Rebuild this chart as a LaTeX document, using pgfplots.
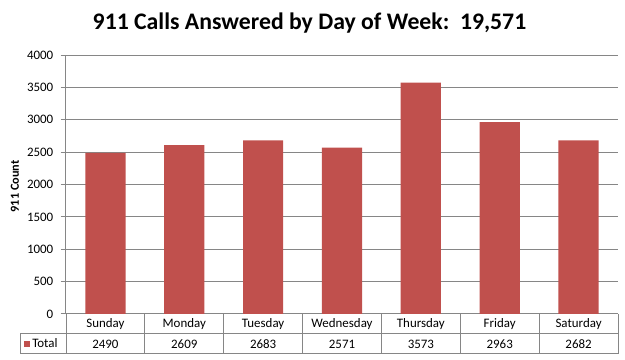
\documentclass[border=0pt]{standalone}
\usepackage{pgfplots}
\pgfplotsset{compat=1.18}
\usepackage{fontspec}
\setmainfont{Carlito}
\definecolor{barred}{HTML}{C0504D}
\definecolor{gridgray}{HTML}{868686}
\newcommand{\px}{0.75pt}
\newcommand{\smallf}{\fontsize{9.7pt}{11pt}\selectfont}
\begin{document}
\begin{tikzpicture}
\useasboundingbox (0,0) rectangle (625*\px,360*\px);
\begin{axis}[
  at={(66*\px,46*\px)}, anchor=south west,
  scale only axis,
  width=414pt, height=194.25pt,
  xmin=-0.5, xmax=6.5,
  ymin=0, ymax=4000,
  ytick={0,500,...,4000},
  xtick=\empty,
  ymajorgrids,
  grid style={gridgray, line width=0.75pt},
  axis x line=bottom, axis y line=left,
  axis line style={gridgray, line width=0.75pt, -},
  ytick style={gridgray, line width=0.75pt},
  tick align=outside,
  major tick length=4pt,
  yticklabel style={font=\smallf, xshift=-2pt},
  /pgf/number format/assume math mode=true,
  /pgf/number format/1000 sep={},
  clip=false,
]
\addplot[ybar, bar width=0.51, fill=barred, draw=none] coordinates {
  (0,2490) (1,2609) (2,2683) (3,2571) (4,3573) (5,2963) (6,2682)
};
\end{axis}
\node[font=\fontsize{17.8pt}{20pt}\selectfont\bfseries, inner sep=0pt] at (309.5*\px,337*\px) {911 Calls Answered by Day of Week:\ \ 19,571};
\node[font=\fontsize{9.2pt}{11pt}\selectfont\bfseries, rotate=90, inner sep=0pt] at (15*\px,173.5*\px) {911 Count};
\begin{scope}[gridgray, line width=0.75pt]
  \draw (20*\px,26*\px) -- (618*\px,26*\px);
  \draw (20*\px,6*\px) -- (618*\px,6*\px);
  \draw (20*\px,26*\px) -- (20*\px,6*\px);
  \draw (66*\px,46*\px) -- (66*\px,6*\px);
  \foreach \k in {1,...,7} {
    \draw ({(66+\k*78.857)*\px},46*\px) -- ({(66+\k*78.857)*\px},6*\px);
  }
\end{scope}
\fill[barred] (24*\px,13*\px) rectangle (30*\px,19*\px);
\node[anchor=west, font=\smallf, inner sep=0pt] at (32*\px,16.5*\px) {Total};
\foreach \name/\val [count=\i from 0] in {Sunday/2490,Monday/2609,Tuesday/2683,Wednesday/2571,Thursday/3573,Friday/2963,Saturday/2682} {
  \node[font=\smallf, inner sep=0pt] at ({(66+(\i+0.5)*78.857)*\px},36*\px) {\name};
  \node[font=\smallf, inner sep=0pt] at ({(66+(\i+0.5)*78.857)*\px},16*\px) {\val};
}
\end{tikzpicture}
\end{document}
